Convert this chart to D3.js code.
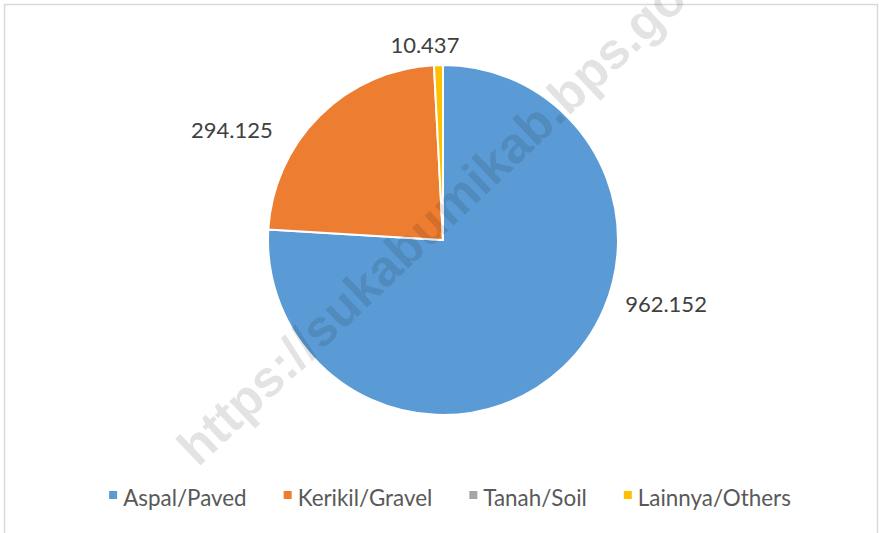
<!DOCTYPE html>
<html>
<head>
<meta charset="utf-8">
<script src="https://cdn.jsdelivr.net/npm/d3@7"></script>
<style>
  html, body { margin: 0; padding: 0; background: #fff; }
  svg { display: block; }
</style>
</head>
<body>
<svg id="chart" width="879" height="533"></svg>
<script>
// data
var categories = ['Aspal/Paved', 'Kerikil/Gravel', 'Tanah/Soil', 'Lainnya/Others'];
var values = [962.152, 294.125, 0, 10.437];
var valueLabels = ['962.152', '294.125', '', '10.437'];
var colors = ['#5B9BD5', '#ED7D31', '#A5A5A5', '#FFC000'];

var W = 879, H = 533;
var cx = 443, cy = 240, r = 175;

var svg = d3.select('#chart');

// chart frame
svg.append('rect')
    .attr('x', 4.5).attr('y', 4.5)
    .attr('width', 873).attr('height', 560)
    .attr('fill', '#fff')
    .attr('stroke', '#d9d9d9')
    .attr('stroke-width', 1.5);

var rows = categories.map(function(c, i){
    return {name: c, value: values[i], label: valueLabels[i], color: colors[i]};
});

var pie = d3.pie().sort(null).value(function(d){ return d.value; });
var arc = d3.arc().innerRadius(0).outerRadius(r);
var arcs = pie(rows);

var g = svg.append('g').attr('transform', 'translate(' + cx + ',' + cy + ')');

g.selectAll('path.slice')
    .data(arcs.filter(function(a){ return a.data.value > 0; }))
    .enter()
    .append('path')
    .attr('class', 'slice')
    .attr('d', arc)
    .attr('fill', function(d){ return d.data.color; })
    .attr('stroke', '#fff')
    .attr('stroke-width', 2)
    .attr('stroke-linejoin', 'round');

// data labels, "best fit" style placement (angle in degrees from top, distance from centre)
var labelPlace = {
    'Aspal/Paved':    {deg: 106, dist: 232},
    'Kerikil/Gravel': {deg: 297.5, dist: 238},
    'Lainnya/Others': {deg: 354.7, dist: 196}
};

g.selectAll('text.vlabel')
    .data(arcs.filter(function(a){ return a.data.label !== ''; }))
    .enter()
    .append('text')
    .attr('class', 'vlabel')
    .attr('transform', function(d){
        var p = labelPlace[d.data.name];
        var pt = d3.pointRadial(p.deg * Math.PI / 180, p.dist);
        return 'translate(' + pt[0] + ',' + pt[1] + ')';
    })
    .attr('text-anchor', 'middle')
    .attr('dy', '0.35em')
    .attr('font-family', 'Lato, "Open Sans", sans-serif')
    .attr('font-size', '22px')
    .attr('fill', '#404040')
    .text(function(d){ return d.data.label; });

// legend
var legend = svg.append('g').attr('class', 'legend');
var items = legend.selectAll('g.item')
    .data(rows)
    .enter()
    .append('g')
    .attr('class', 'item');

items.append('rect')
    .attr('width', 8).attr('height', 8)
    .attr('y', -8)
    .attr('fill', function(d){ return d.color; });

items.append('text')
    .attr('x', 14)
    .attr('y', 0)
    .attr('dy', '0.3em')
    .attr('font-family', 'Lato, "Open Sans", sans-serif')
    .attr('font-size', '22.4px')
    .attr('fill', '#595959')
    .text(function(d){ return d.name; });

var gap = 37, x = 0, widths = [];
items.each(function(){
    var tw = d3.select(this).select('text').node().getComputedTextLength();
    widths.push(14 + tw);
});
items.attr('transform', function(d, i){
    var t = 'translate(' + x + ',0)';
    x += widths[i] + gap;
    return t;
});
var total = x - gap;
legend.attr('transform', 'translate(' + (450 - total / 2) + ',499)');

// watermark (runs off the top edge, as in the original)
svg.append('text')
    .attr('transform', 'translate(198,468) rotate(-43.5)')
    .attr('font-family', '"Liberation Sans", Arial, sans-serif')
    .attr('font-weight', 'bold')
    .attr('font-size', '51px')
    .attr('fill', 'rgba(0,0,0,0.11)')
    .text('https://sukabumikab.bps.go.id');
</script>
</body>
</html>
